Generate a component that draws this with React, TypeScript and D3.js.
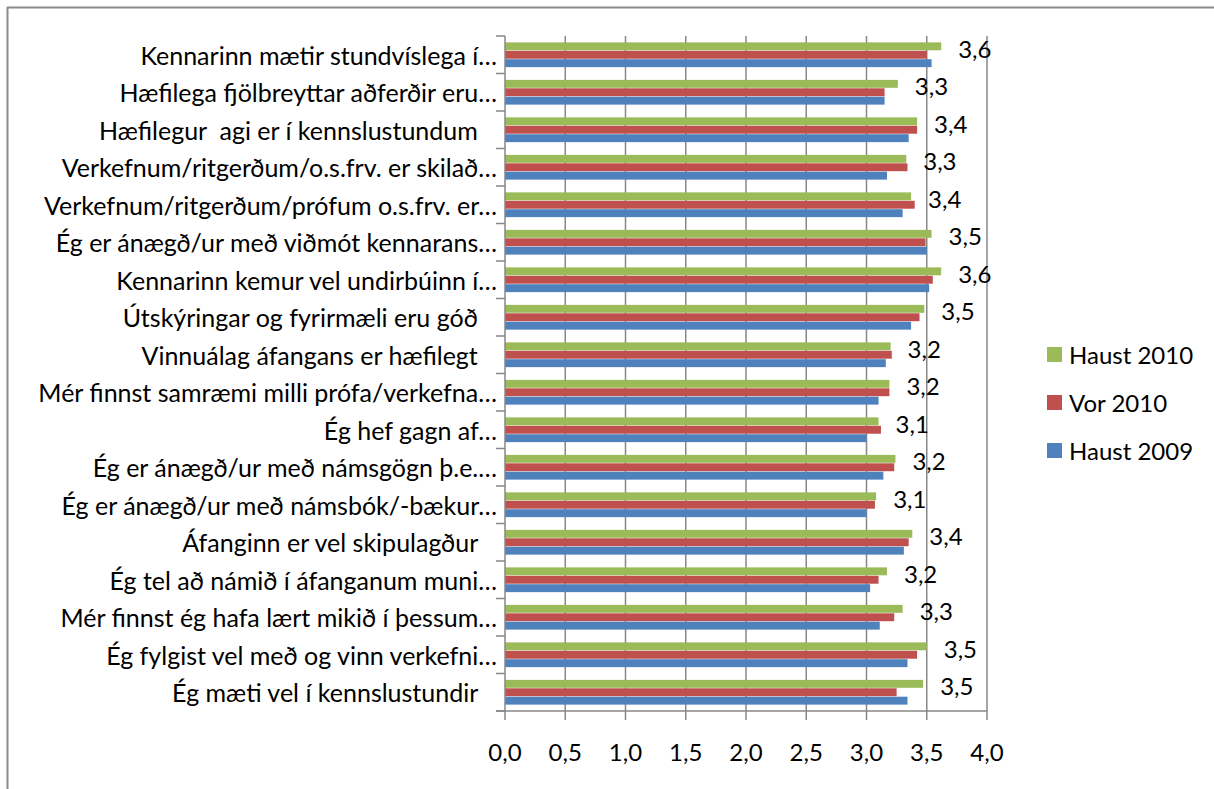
import React from 'react';
import * as d3 from 'd3';

// survey items, top to bottom as shown in the chart
const categories = [
  'Kennarinn mætir stundvíslega í…',
  'Hæfilega fjölbreyttar aðferðir eru…',
  'Hæfilegur  agi er í kennslustundum   ',
  'Verkefnum/ritgerðum/o.s.frv. er skilað…',
  'Verkefnum/ritgerðum/prófum o.s.frv. er…',
  'Ég er ánægð/ur með viðmót kennarans…',
  'Kennarinn kemur vel undirbúinn í…',
  'Útskýringar og fyrirmæli eru góð   ',
  'Vinnuálag áfangans er hæfilegt   ',
  'Mér finnst samræmi milli prófa/verkefna…',
  'Ég hef gagn af…',
  'Ég er ánægð/ur með námsgögn þ.e.…',
  'Ég er ánægð/ur með námsbók/-bækur…',
  'Áfanginn er vel skipulagður   ',
  'Ég tel að námið í áfanganum muni…',
  'Mér finnst ég hafa lært mikið í þessum…',
  'Ég fylgist vel með og vinn verkefni…',
  'Ég mæti vel í kennslustundir   ',
];

const haust2010 = [3.62, 3.26, 3.42, 3.33, 3.37, 3.54, 3.62, 3.48, 3.2, 3.19, 3.1, 3.24, 3.08, 3.38, 3.17, 3.3, 3.5, 3.47];
const vor2010 = [3.5, 3.15, 3.42, 3.34, 3.4, 3.49, 3.55, 3.44, 3.21, 3.19, 3.12, 3.23, 3.07, 3.35, 3.1, 3.23, 3.42, 3.25];
const haust2009 = [3.54, 3.15, 3.35, 3.17, 3.3, 3.5, 3.52, 3.37, 3.16, 3.1, 3.0, 3.14, 3.0, 3.31, 3.03, 3.11, 3.34, 3.34];

const seriesNames = ['Haust 2010', 'Vor 2010', 'Haust 2009'];
const seriesColors = ['#9BBB59', '#C0504D', '#4F81BD'];
const seriesValues = [haust2010, vor2010, haust2009];

const xTicks = [0, 0.5, 1, 1.5, 2, 2.5, 3, 3.5, 4];

const width = 1214;
const height = 789;
const font = 'Lato, "Open Sans", sans-serif';
const gridColor = '#878787';

const isLocale = d3.formatLocale({ decimal: ',', thousands: '.', grouping: [3], currency: ['', ' kr.'] });
const fmt = isLocale.format('.1f');

export default function App() {
  const x = d3.scaleLinear().domain([0, 4]).range([505, 987]);
  const y0 = d3
    .scaleBand<string>()
    .domain(categories)
    .range([36, 711])
    .paddingInner(0.34)
    .paddingOuter(0.17);
  const y1 = d3
    .scaleBand<string>()
    .domain(seriesNames)
    .range([0, y0.bandwidth()])
    .paddingInner(0.06);

  const step = y0.step();
  const [top, bottom] = y0.range();
  const boundaries = d3.range(categories.length + 1).map((i) => top + i * step);

  return (
    <svg
      width={width}
      height={height}
      style={{ position: 'absolute', left: 0, top: 0, background: '#fff', display: 'block' }}
      fontFamily={font}
    >
      {/* chart frame (only top and left edges show) */}
      <line x1={7} x2={width} y1={7.5} y2={7.5} stroke="#8a8a8a" strokeWidth={2} />
      <line x1={7.5} x2={7.5} y1={7} y2={height} stroke="#8a8a8a" strokeWidth={2} />

      {/* vertical gridlines */}
      {xTicks.slice(1).map((t) => (
        <line key={t} x1={x(t)} x2={x(t)} y1={top} y2={bottom} stroke={gridColor} strokeWidth={1.5} />
      ))}

      {/* bars */}
      {categories.map((c, i) => (
        <g key={c} transform={`translate(0,${y0(c)})`}>
          {seriesNames.map((s, j) => (
            <rect
              key={s}
              x={x(0)}
              y={y1(s)}
              width={x(seriesValues[j][i]) - x(0)}
              height={y1.bandwidth()}
              fill={seriesColors[j]}
            />
          ))}
        </g>
      ))}

      {/* data labels for Haust 2010 */}
      {categories.map((c, i) => (
        <text
          key={c}
          x={x(haust2010[i]) + 17}
          y={(y0(c) as number) + (y1(seriesNames[0]) as number) + y1.bandwidth() / 2 + 2}
          fontSize={24}
          dominantBaseline="central"
          fill="#000"
        >
          {fmt(haust2010[i])}
        </text>
      ))}

      {/* category axis */}
      <line x1={x(0)} x2={x(0)} y1={top} y2={bottom} stroke={gridColor} strokeWidth={1.5} />
      {boundaries.map((b, i) => (
        <line key={i} x1={x(0) - 9} x2={x(0)} y1={b} y2={b} stroke={gridColor} strokeWidth={1.5} />
      ))}
      {categories.map((c) => (
        <text
          key={c}
          x={497}
          y={(y0(c) as number) + y0.bandwidth() / 2}
          textAnchor="end"
          dominantBaseline="central"
          fontSize={25}
          fill="#000"
          style={{ whiteSpace: 'pre' }}
        >
          {c}
        </text>
      ))}

      {/* value axis */}
      <line x1={x(0) - 9} x2={x(4)} y1={bottom} y2={bottom} stroke={gridColor} strokeWidth={1.5} />
      {xTicks.map((t) => (
        <g key={t}>
          <line x1={x(t)} x2={x(t)} y1={bottom} y2={bottom + 9} stroke={gridColor} strokeWidth={1.5} />
          <text x={x(t)} y={761} textAnchor="middle" fontSize={24} fill="#000">
            {fmt(t)}
          </text>
        </g>
      ))}

      {/* legend */}
      {seriesNames.map((s, j) => {
        const cy = 354.5 + j * 48;
        return (
          <g key={s}>
            <rect x={1047} y={cy - 7.5} width={15} height={15} fill={seriesColors[j]} />
            <text x={1069} y={cy} dominantBaseline="central" fontSize={24} fill="#000">
              {s}
            </text>
          </g>
        );
      })}
    </svg>
  );
}
